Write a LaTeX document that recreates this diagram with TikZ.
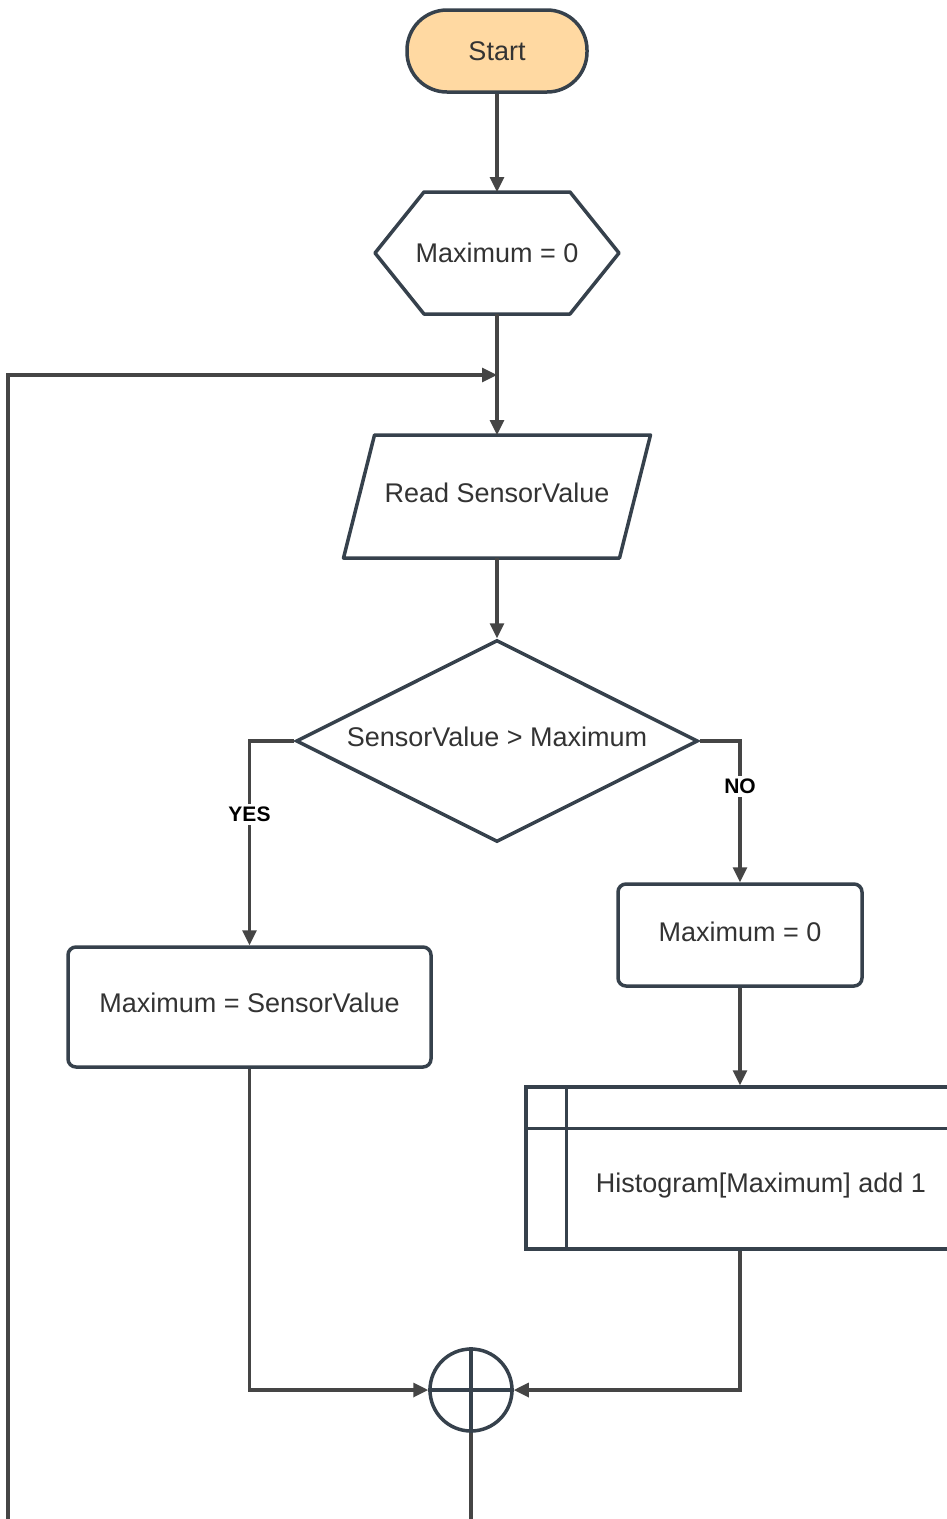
\documentclass[tikz,border=0pt]{standalone}
\usepackage{fontspec}
\setmainfont{Liberation Sans}
\usetikzlibrary{arrows.meta,shapes.geometric}
\definecolor{bord}{HTML}{36414C}
\definecolor{conncol}{HTML}{454545}
\definecolor{startfill}{HTML}{FFD9A2}
\definecolor{txt}{HTML}{333333}
\begin{document}
\begin{tikzpicture}[x=1pt,y=-1pt,
  shp/.style={draw=bord, line width=3.5pt, text=txt, font=\fontsize{27}{32}\selectfont, fill=white},
  plain/.style={text=txt, font=\fontsize{27}{32}\selectfont, inner sep=0pt, outer sep=0pt},
  bline/.style={draw=bord, line width=3.5pt, line join=round},
  conn/.style={draw=conncol, line width=3.2pt},
  arr/.style={conn, -{Triangle[length=15pt,width=14pt]}},
  lbl/.style={font=\bfseries\fontsize{21}{25}\selectfont, fill=white, text=black, inner sep=3pt}]
\clip (0,0) rectangle (947,1519);
% nodes
\node[shp, fill=startfill, rounded corners=40pt, minimum width=180pt, minimum height=82pt] (start) at (497,51) {Start};
\node[plain, minimum width=244pt, minimum height=122pt] (hex) at (497,253) {};
\draw[bline, fill=white] ([xshift=49pt]hex.north west) -- ([xshift=-49pt]hex.north east) -- (hex.east) -- ([xshift=-49pt]hex.south east) -- ([xshift=49pt]hex.south west) -- (hex.west) -- cycle;
\node[plain] at (hex.center) {Maximum = 0};
\node[plain, minimum width=307pt, minimum height=123pt] (read) at (497,496.5) {};
\draw[bline, fill=white] ([xshift=31pt]read.north west) -- (read.north east) -- ([xshift=-31pt]read.south east) -- (read.south west) -- cycle;
\node[plain] at ([yshift=4pt]read.center) {Read SensorValue};
\node[shp, diamond, aspect=2, inner sep=0pt, minimum width=402pt, minimum height=202pt] (dec) at (497,741) {};
\node[plain] at ([yshift=4pt]dec.center) {SensorValue > Maximum};
\node[shp, rounded corners=8pt, minimum width=363pt, minimum height=120pt] (yb) at (249.5,1007) {};
\node[plain] at ([yshift=4pt]yb.center) {Maximum = SensorValue};
\node[shp, rounded corners=8pt, minimum width=244pt, minimum height=102pt] (nb) at (740,935) {};
\node[plain] at ([yshift=3pt]nb.center) {Maximum = 0};
\node[shp, minimum width=428pt, minimum height=162pt, inner sep=0pt] (hist) at (740,1168) {};
\draw[bline] ([xshift=42pt]hist.north west) -- ([xshift=42pt]hist.south west);
\draw[bline] ([yshift=-43pt]hist.north west) -- ([yshift=-43pt]hist.north east);
\node[plain] (histtxt) at (761,1186) {Histogram[Maximum] add 1};
\node[shp, circle, minimum size=82pt, inner sep=0pt] (circ) at (471,1390) {};
\draw[bline] (circ.north) -- (circ.south) (circ.west) -- (circ.east);
% coordinates
\coordinate (j) at (497,375);
\coordinate (lb) at (8,1530);
\coordinate (cb) at (471,1530);
% connectors
\draw[arr] (start.south) -- (hex.north);
\draw[arr] (hex.south) -- (read.north);
\draw[arr] (lb) |- (j);
\draw[arr] (read.south) -- (dec.north);
\draw[arr] (dec.west) -| node[lbl, pos=0.68] {YES} (yb.north);
\draw[arr] (dec.east) -| node[lbl, pos=0.66] {NO} (nb.north);
\draw[arr] (nb.south) -- (hist.north);
\draw[arr] (yb.south) |- (circ.west);
\draw[arr] (hist.south) |- (circ.east);
\draw[conn] (circ.south) -- (cb);
\end{tikzpicture}
\end{document}
